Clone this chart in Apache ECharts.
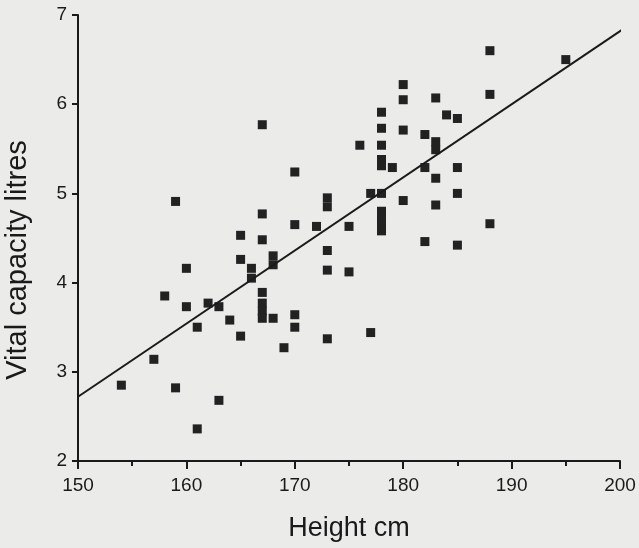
<!DOCTYPE html>
<html>
<head>
<meta charset="utf-8">
<script src="https://cdn.jsdelivr.net/npm/echarts@6/dist/echarts.min.js"></script>
<style>
  html, body { margin: 0; padding: 0; background: #ebebe9; }
  #main { width: 639px; height: 548px; }
</style>
</head>
<body>
<div id="main"></div>
<script>
// height (cm) and vital capacity (litres)
const heights = [
  154, 157, 159, 161, 163, 159, 158, 160, 160, 161,
  162, 163, 164, 165, 165, 165, 166, 166, 167, 167,
  167, 167, 167, 167, 167, 168, 168, 168, 169, 170,
  170, 170, 170, 172, 173, 173, 173, 173, 173, 175,
  175, 176, 177, 177, 178, 178, 178, 178, 178, 178,
  178, 178, 178, 178, 179, 180, 180, 180, 180, 182,
  182, 182, 183, 183, 183, 183, 183, 184, 185, 185,
  185, 185, 188, 188, 188, 195
];
const vitalCapacity = [
  2.85, 3.14, 2.82, 2.36, 2.68, 4.91, 3.85, 4.16, 3.73, 3.50,
  3.77, 3.73, 3.58, 3.40, 4.53, 4.26, 4.16, 4.05, 5.77, 4.77,
  4.48, 3.89, 3.77, 3.68, 3.60, 4.30, 4.20, 3.60, 3.27, 5.24,
  4.65, 3.64, 3.50, 4.63, 4.95, 4.85, 4.36, 4.14, 3.37, 4.63,
  4.12, 5.54, 5.00, 3.44, 5.91, 5.73, 5.54, 5.38, 5.31, 5.00,
  4.80, 4.72, 4.64, 4.58, 5.29, 6.22, 6.05, 5.71, 4.92, 5.66,
  5.29, 4.46, 6.07, 5.58, 5.49, 5.17, 4.87, 5.88, 5.84, 5.29,
  5.00, 4.42, 6.60, 6.11, 4.66, 6.50
];

// regression line end points
const fitX = [150, 200.5];
const fitY = [2.72, 6.86];

const xTicks = [150, 160, 170, 180, 190, 200];
const yTicks = [2, 3, 4, 5, 6, 7];

const points = heights.map((h, i) => [h, vitalCapacity[i]]);
const fitLine = fitX.map((x, i) => [x, fitY[i]]);

const ink = '#1a1a1a';
const font = "'Liberation Sans', Arial, sans-serif";

let chart = echarts.init(document.getElementById('main'));

let option = {
  backgroundColor: '#ebebe9',
  animation: false,
  grid: {
    left: 78,
    right: 19,
    top: 15,
    bottom: 87,
    containLabel: false,
    outerBoundsMode: 'none'
  },
  xAxis: {
    type: 'value',
    min: xTicks[0],
    max: xTicks[xTicks.length - 1],
    interval: 10,
    name: 'Height cm',
    nameLocation: 'middle',
    nameGap: 54,
    nameTextStyle: { color: ink, fontSize: 27, fontFamily: font },
    axisLine: { show: true, lineStyle: { color: ink, width: 2 } },
    axisTick: { show: true, length: 8, lineStyle: { color: ink, width: 2 } },
    minorTick: { show: true, splitNumber: 2, length: 5, lineStyle: { color: ink, width: 2 } },
    axisLabel: { color: ink, fontSize: 19, fontFamily: font, margin: 15 },
    splitLine: { show: false }
  },
  yAxis: {
    type: 'value',
    min: yTicks[0],
    max: yTicks[yTicks.length - 1],
    interval: 1,
    name: 'Vital capacity litres',
    nameLocation: 'middle',
    nameGap: 46,
    nameTextStyle: { color: ink, fontSize: 29, fontFamily: font, padding: [0, 44, 0, 0] },
    axisLine: { show: true, lineStyle: { color: ink, width: 2 } },
    axisTick: { show: true, length: 6, lineStyle: { color: ink, width: 2 } },
    axisLabel: { color: ink, fontSize: 19, fontFamily: font, margin: 11 },
    splitLine: { show: false }
  },
  series: [
    {
      name: 'Subjects',
      type: 'scatter',
      symbol: 'rect',
      symbolSize: 9,
      itemStyle: { color: '#222222', opacity: 1 },
      data: points
    },
    {
      name: 'Fit',
      type: 'line',
      clip: false,
      showSymbol: false,
      symbol: 'none',
      lineStyle: { color: ink, width: 2 },
      data: fitLine
    }
  ]
};

chart.setOption(option);
</script>
</body>
</html>
